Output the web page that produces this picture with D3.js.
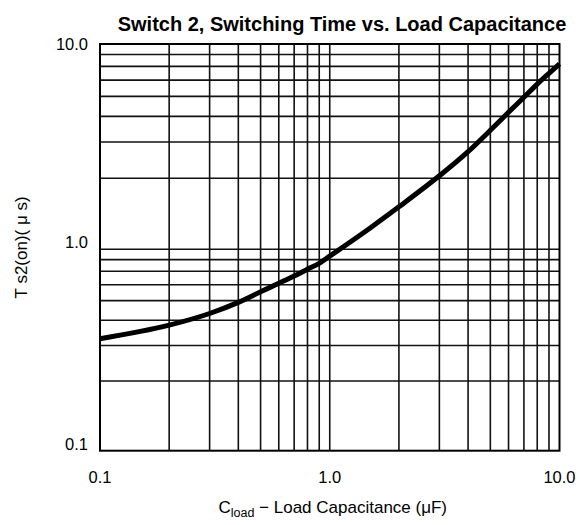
<!DOCTYPE html>
<html>
<head>
<meta charset="utf-8">
<script src="https://cdn.jsdelivr.net/npm/d3@7"></script>
<style>
  html, body { margin: 0; padding: 0; background: #fff; }
  svg { display: block; }
  text { font-family: "Liberation Sans", Arial, Helvetica, sans-serif; fill: #000; }
</style>
</head>
<body>
<svg id="chart" width="580" height="525"></svg>
<script>
// ---- data ----
const capacitance = [0.1, 0.2, 0.3, 0.4, 0.5, 0.6, 0.7, 0.8, 0.9, 1.0, 1.5, 2, 3, 4, 5, 6, 7, 8, 9, 10];
const switchTime  = [0.36, 0.42, 0.48, 0.545, 0.615, 0.678, 0.737, 0.796, 0.852, 0.925, 1.27, 1.61, 2.28, 2.99, 3.8, 4.65, 5.5, 6.38, 7.2, 8.0];

const xTickValues = [0.1, 1, 10];
const xTickLabels = ["0.1", "1.0", "10.0"];
const yTickValues = [0.1, 1, 10];
const yTickLabels = ["0.1", "1.0", "10.0"];

const decades = [0.1, 1];
const xMinorMults = [2, 3, 4, 5, 6, 7, 8, 9];
const yMinorMults = [2.22, 3.33, 4.44, 5.56, 6.67, 7.78, 8.89];

const titleText = "Switch 2, Switching Time vs. Load Capacitance";

(function () {
// ---- layout ----
const pL = 100, pR = 559.5, pT = 44, pB = 450.7;
const svg = d3.select("#chart");

const x = d3.scaleLog().domain([0.1, 10]).range([pL, pR]);
const y = d3.scaleLog().domain([0.1, 1, 10]).range([pB, 249.3, pT]);

// grid
const gridG = svg.append("g").attr("stroke", "#111").attr("stroke-width", 1.6).attr("fill", "none");
const xGrid = [];
decades.forEach(d => xMinorMults.forEach(m => xGrid.push(d * m)));
xGrid.push(1);
gridG.selectAll("line.xg").data(xGrid).join("line").attr("class", "xg")
  .attr("x1", d => x(d)).attr("x2", d => x(d))
  .attr("y1", pT).attr("y2", pB);
const yGrid = [];
decades.forEach(d => yMinorMults.forEach(m => yGrid.push(d * m)));
yGrid.push(1);
gridG.selectAll("line.yg").data(yGrid).join("line").attr("class", "yg")
  .attr("y1", d => y(d)).attr("y2", d => y(d))
  .attr("x1", pL).attr("x2", pR);

// frame
svg.append("rect")
  .attr("x", pL).attr("y", pT)
  .attr("width", pR - pL).attr("height", pB - pT)
  .attr("fill", "none").attr("stroke", "#000").attr("stroke-width", 2);

// curve
const pts = capacitance.map((c, i) => [c, switchTime[i]]);
svg.append("path")
  .datum(pts)
  .attr("fill", "none")
  .attr("stroke", "#000")
  .attr("stroke-width", 5)
  .attr("stroke-linejoin", "round")
  .attr("d", d3.line().x(d => x(d[0])).y(d => y(d[1])).curve(d3.curveMonotoneX));

// x tick labels
svg.append("g").selectAll("text").data(xTickValues).join("text")
  .attr("x", d => x(d)).attr("y", 483)
  .attr("text-anchor", "middle")
  .attr("font-size", 16.5)
  .text((d, i) => xTickLabels[i]);

// y tick labels
svg.append("g").selectAll("text").data(yTickValues).join("text")
  .attr("x", 88)
  .attr("y", (d, i) => i === yTickValues.length - 1 ? y(d) + 6 : y(d) - 1)
  .attr("text-anchor", "end")
  .attr("font-size", 16.5)
  .text((d, i) => yTickLabels[i]);

// title
svg.append("text")
  .attr("x", 342).attr("y", 31)
  .attr("text-anchor", "middle")
  .attr("font-size", 20).attr("font-weight", "bold")
  .text(titleText);

// x axis title
const xt = svg.append("text")
  .attr("x", (pL + pR) / 2 + 3).attr("y", 513)
  .attr("text-anchor", "middle")
  .attr("font-size", 17);
xt.append("tspan").text("C");
xt.append("tspan").attr("font-size", 12.5).attr("dy", 4).text("load");
xt.append("tspan").attr("dy", -4).text(" \u2212 Load Capacitance (\u03BCF)");

// y axis title
svg.append("text")
  .attr("transform", `translate(27, ${(pT + pB) / 2}) rotate(-90)`)
  .attr("text-anchor", "middle")
  .attr("font-size", 17)
  .text("T s2(on)( \u03BC s)");
})();
</script>
</body>
</html>
